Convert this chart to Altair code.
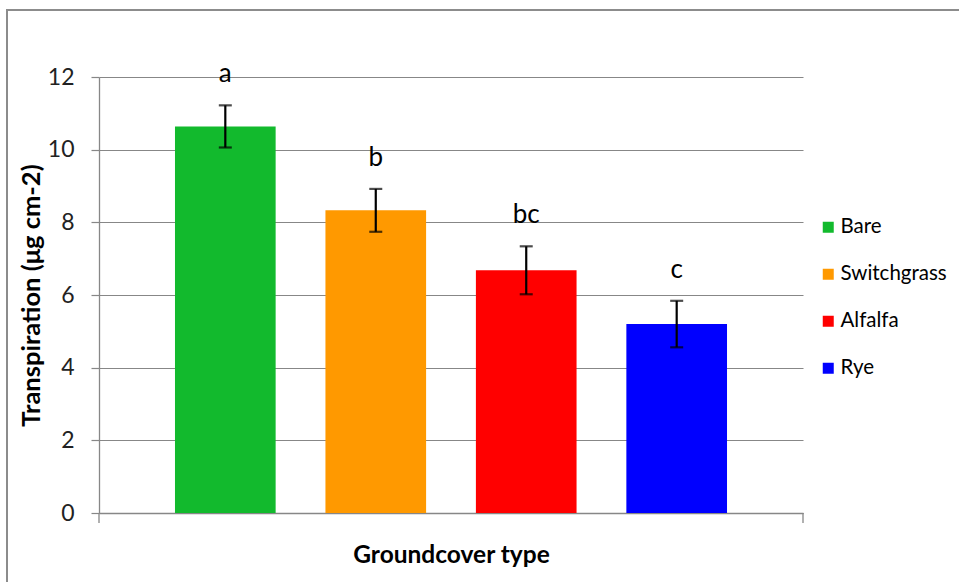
import altair as alt
import pandas as pd

# Mean transpiration per groundcover type, with standard errors and significance letters
groundcover = ["Bare", "Switchgrass", "Alfalfa", "Rye"]
transpiration = [10.64, 8.33, 6.68, 5.20]
std_err = [0.58, 0.59, 0.66, 0.64]
letters = ["a", "b", "bc", "c"]
bar_colors = ["#12BA2D", "#FF9900", "#FF0000", "#0000FF"]

df = pd.DataFrame({
    "type": groundcover,
    "value": transpiration,
    "err": std_err,
    "letter": letters,
})
df["lo"] = df["value"] - df["err"]
df["hi"] = df["value"] + df["err"]

FONT = "Lato"
GRID = "#878787"
W, H = 704, 436

x_enc = alt.X(
    "type:N",
    sort=groundcover,
    scale=alt.Scale(paddingInner=0.331, paddingOuter=0.505),
    axis=alt.Axis(
        title="Groundcover type", labels=False, ticks=False,
        domainColor=GRID, domainWidth=1.3,
        titleFont=FONT, titleFontSize=24.5, titleFontWeight="bold",
        titleColor="#000000", titlePadding=30,
    ),
)
y_scale = alt.Scale(domain=[0, 12], nice=False)

base = alt.Chart(df)

bars = base.mark_bar().encode(
    x=x_enc,
    y=alt.Y(
        "value:Q",
        scale=y_scale,
        axis=alt.Axis(
            title="Transpiration (μg cm-2)",
            values=[0, 2, 4, 6, 8, 10, 12],
            grid=True, gridColor=GRID, gridWidth=1.2,
            domainColor=GRID, domainWidth=1.3,
            tickColor=GRID, tickSize=8, tickWidth=1.2,
            labelFont=FONT, labelFontSize=23, labelColor="#222222",
            labelPadding=17,
            titleFont=FONT, titleFontSize=25.5, titleFontWeight="bold",
            titleColor="#000000", titlePadding=3,
        ),
    ),
    color=alt.Color(
        "type:N",
        scale=alt.Scale(domain=groundcover, range=bar_colors),
        legend=alt.Legend(
            title=None, orient="none", legendX=719, legendY=140,
            padding=0, symbolType="square", symbolSize=121,
            symbolStrokeWidth=0, symbolOpacity=1,
            labelFont=FONT, labelFontSize=20.5, labelColor="#000000",
            labelOffset=2, rowPadding=26,
        ),
    ),
)

err_lines = base.mark_rule(color="#000000", strokeWidth=2.2).encode(
    x=alt.X("type:N", sort=groundcover),
    y=alt.Y("lo:Q", scale=y_scale),
    y2="hi:Q",
)
err_top = base.mark_tick(color="#000000", size=13, thickness=2.2).encode(
    x=alt.X("type:N", sort=groundcover),
    y=alt.Y("hi:Q", scale=y_scale),
)
err_bot = base.mark_tick(color="#000000", size=13, thickness=2.2).encode(
    x=alt.X("type:N", sort=groundcover),
    y=alt.Y("lo:Q", scale=y_scale),
)

letter_text = base.mark_text(
    font=FONT, fontSize=26, color="#000000", baseline="alphabetic", dy=-23
).encode(
    x=alt.X("type:N", sort=groundcover),
    y=alt.Y("hi:Q", scale=y_scale),
    text="letter:N",
)

one = pd.DataFrame({"k": [0]})
# end ticks of the category axis
end_ticks = alt.Chart(one).mark_rule(color=GRID, strokeWidth=1.3).encode(
    x=alt.value(0), y=alt.value(H), y2=alt.value(H + 10)
) + alt.Chart(one).mark_rule(color=GRID, strokeWidth=1.3).encode(
    x=alt.value(W), y=alt.value(H), y2=alt.value(H + 10)
)

# chart-area frame
frame = alt.Chart(one).mark_rect(
    fill=None, fillOpacity=0, stroke="#8C8C8C", strokeWidth=2
).encode(
    x=alt.value(-92), x2=alt.value(W + 170),
    y=alt.value(-67), y2=alt.value(H + 100),
)

chart = alt.layer(
    frame, bars, err_lines, err_top, err_bot, letter_text, end_ticks
).properties(
    width=W, height=H,
    padding={"left": 99, "top": 77, "right": 156, "bottom": 69},
    autosize=alt.AutoSizeParams(type="none"),
    background="#FFFFFF",
).configure_view(stroke=None)

chart.save("out.html", embed_options={"renderer": "svg", "actions": False})
